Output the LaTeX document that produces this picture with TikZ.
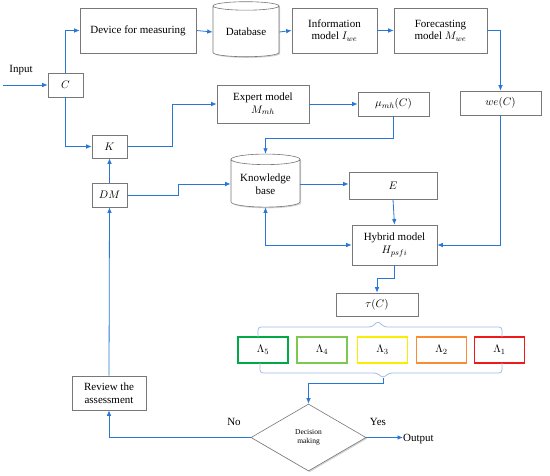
\documentclass[tikz,border=0pt]{standalone}
\usepackage{fontspec}
\setmainfont{Liberation Serif}
\usetikzlibrary{arrows.meta,shapes.geometric,shadows,calc}
\definecolor{arrblue}{RGB}{38,120,212}
\definecolor{bracecol}{RGB}{160,190,230}
\definecolor{boxgray}{RGB}{120,120,120}
\definecolor{lamA}{RGB}{0,168,70}
\definecolor{lamB}{RGB}{125,200,80}
\definecolor{lamC}{RGB}{250,238,0}
\definecolor{lamD}{RGB}{250,140,50}
\definecolor{lamE}{RGB}{238,25,25}
\tikzset{
  boxshadow/.style={drop shadow={shadow xshift=1.2pt,shadow yshift=-1.2pt,fill=black!35,opacity=0.5}},
  box/.style={draw=boxgray,line width=0.6pt,fill=white,boxshadow,align=center,
    font=\fontsize{11}{12.5}\selectfont,inner sep=1pt},
  cyl/.style={cylinder,shape border rotate=90,aspect=0.2,draw=boxgray,line width=0.6pt,
    fill=white,boxshadow,align=center,font=\fontsize{11}{12.5}\selectfont,inner sep=1pt},
  lam/.style={draw,line width=1.4pt,fill=white,minimum width=50pt,minimum height=26pt,
    inner sep=0pt,font=\fontsize{11}{12.5}\selectfont},
  arr/.style={draw=arrblue,line width=0.8pt,-{Latex[length=5.5pt,width=4.5pt]}},
  dblarr/.style={draw=arrblue,line width=0.8pt,{Latex[length=5.5pt,width=4.5pt]}-{Latex[length=5.5pt,width=4.5pt]}},
  lbl/.style={font=\fontsize{11}{12.5}\selectfont,inner sep=0pt},
  bracestyle/.style={draw=bracecol,line width=0.8pt,rounded corners=3pt},
}
\begin{document}
\begin{tikzpicture}[x=1pt,y=-1pt]
\useasboundingbox (0,0) rectangle (550,476);
% nodes
\node[box,minimum width=116pt,minimum height=45pt] (dev) at (138,30.5) {Device for measuring};
\node[cyl,minimum width=66pt,minimum height=55pt] (db) at (246,32) {Database};
\node[box,minimum width=85pt,minimum height=45pt] (info) at (334.5,30.5) {Information\\model $I_{we}$};
\node[box,minimum width=93pt,minimum height=45pt] (fore) at (440.5,30.5) {Forecasting\\model $M_{we}$};
\node[box,minimum width=35pt,minimum height=24pt] (C) at (65.5,85) {$C$};
\node[box,minimum width=92pt,minimum height=38pt] (exp) at (263,104) {Expert model\\$M_{mh}$};
\node[box,minimum width=71pt,minimum height=24pt] (mu) at (393.5,104) {$\mu_{mh}(C)$};
\node[box,minimum width=81pt,minimum height=24pt] (we) at (500.5,103) {$we(C)$};
\node[box,minimum width=35pt,minimum height=23pt] (K) at (109.5,146.5) {$K$};
\node[cyl,minimum width=69pt,minimum height=53pt] (kb) at (265.5,184) {Knowledge\\base};
\node[box,minimum width=88pt,minimum height=27pt] (E) at (393,185.5) {$E$};
\node[box,minimum width=35pt,minimum height=24pt] (DM) at (109.5,195) {$DM$};
\node[box,minimum width=85pt,minimum height=40pt] (hyb) at (394.5,245) {Hybrid model\\$H_{psfi}$};
\node[box,minimum width=82pt,minimum height=23pt] (tau) at (377,304.5) {$\tau(C)$};
\node[lam,draw=lamA] (l5) at (263,350) {$\Lambda_5$};
\node[lam,draw=lamB] (l4) at (322,350) {$\Lambda_4$};
\node[lam,draw=lamC] (l3) at (382.5,350) {$\Lambda_3$};
\node[lam,draw=lamD] (l2) at (441.5,350) {$\Lambda_2$};
\node[lam,draw=lamE] (l1) at (499.5,350) {$\Lambda_1$};
\node[box,minimum width=74pt,minimum height=34pt] (rev) at (109,393) {Review the\\assessment};
\node[diamond,draw=boxgray,line width=0.6pt,fill=white,boxshadow,minimum width=115pt,minimum height=67pt,
  inner sep=0pt,align=center,font=\fontsize{7.5}{9}\selectfont] (dec) at (308.5,437.5) {Decision\\making};
\node[lbl,anchor=west] (out) at (403,439) {Output};
\node[lbl] (inlbl) at (21,70) {Input};
\node[lbl] (nolbl) at (234,422) {No};
\node[lbl] (yeslbl) at (378,422) {Yes};
\coordinate (inpt) at (3,85);
% braces
\coordinate (ttip) at (378,321);
\coordinate (btip) at (383,378);
\draw[bracestyle] (258,337) -- (258,327) -- (372,327) -- (ttip) -- (384,327) -- (502,327) -- (502,337);
\draw[bracestyle] (260,363) -- (260,373) -- (377,373) -- (btip) -- (389,373) -- (502,373) -- (502,363);
% connectors
\draw[arr] (inpt) -- (C.west);
\draw[arr] (C.north) |- (dev.west);
\draw[arr] (C.south) |- (K.west);
\draw[arr] (K.east) -- ++(45,0) |- (exp.west);
\draw[arr] (dev.east) -- (db.west);
\draw[arr] (db.east) -- (info.west);
\draw[arr] (info.east) -- (fore.west);
\draw[arr] (fore.east) -| (we.north);
\draw[arr] (exp.east) -- (mu.west);
\draw[arr] (mu.south) -- ++(0,22) -| (kb.north);
\draw[arr] (we.south) |- (hyb.east);
\draw[arr] (kb.east) -- (kb.east -| E.west);
\draw[arr] (E.south) -- (hyb.north);
\draw[dblarr] (kb.south) |- (hyb.west);
\draw[arr] (hyb.south) -- ++(0,13) -| (tau.north);
\draw[arr] (DM.east) -- ++(51,0) |- (kb.west);
\draw[arr] (DM.north) -- (K.south);
\draw[arr] (rev.north) -- (DM.south);
\draw[arr] (btip) -- ++(0,5) -| (dec.north);
\draw[arr] (dec.west) -| (rev.south);
\draw[arr] (dec.east) -- (dec.east -| out.west);
\end{tikzpicture}
\end{document}
